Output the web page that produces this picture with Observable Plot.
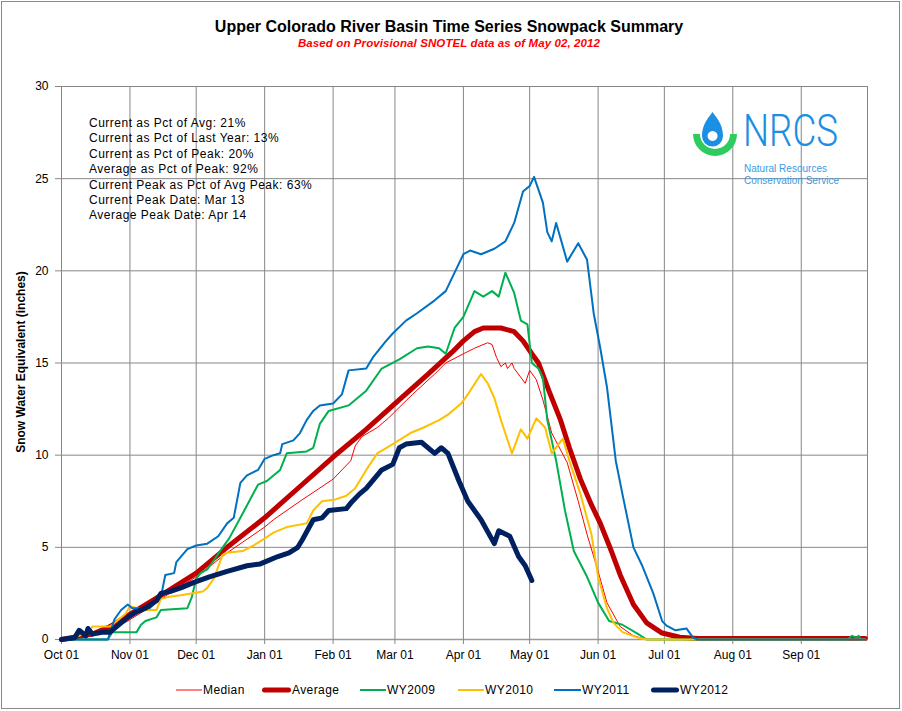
<!DOCTYPE html>
<html>
<head>
<meta charset="utf-8">
<script src="https://cdn.jsdelivr.net/npm/d3@7"></script>
<script src="https://cdn.jsdelivr.net/npm/@observablehq/plot@0.6"></script>
<style>
  html, body { margin: 0; padding: 0; background: #fff; }
  body { font-family: "Liberation Sans", Arial, sans-serif; }
  #wrap { position: relative; width: 902px; height: 711px; overflow: hidden; background: #fff; }
  #border { position: absolute; left: 1px; top: 1px; width: 897px; height: 706px; border: 1px solid #8a8a8a; }
  #title { position: absolute; left: 0; top: 18px; width: 898px; text-align: center; font-size: 16px; font-weight: bold; line-height: 18px; color: #000; }
  #subtitle { position: absolute; left: 0; top: 36px; width: 898px; text-align: center; font-size: 11.5px; font-weight: bold; font-style: italic; line-height: 14px; color: #ff0000; letter-spacing: 0.1px; }
  #chart { position: absolute; left: 0; top: 60px; }
  #ytitle { position: absolute; left: -129px; top: 355px; width: 300px; text-align: center; font-size: 12px; font-weight: bold; line-height: 14px; transform: rotate(-90deg); transform-origin: 150px 7px; }
  #notes { position: absolute; left: 89px; top: 116px; font-size: 12px; line-height: 15.4px; color: #000; white-space: pre; letter-spacing: 0.5px; }
  #logo { position: absolute; left: 690px; top: 95px; }
  .leg { position: absolute; top: 682px; height: 16px; font-size: 12px; line-height: 16px; }
  .leg svg { position: absolute; left: 0; top: 0; }
  .leg span { position: absolute; top: 0; white-space: nowrap; letter-spacing: 0.4px; }
</style>
</head>
<body>
<div id="wrap">
  <div id="border"></div>
  <div id="title">Upper Colorado River Basin Time Series Snowpack Summary</div>
  <div id="subtitle">Based on Provisional SNOTEL data as of May 02, 2012</div>
  <div id="chart"></div>
  <div id="ytitle">Snow Water Equivalent (inches)</div>
  <div id="notes"></div>
  <svg id="logo" width="170" height="100" viewBox="0 0 170 100">
    <path d="M3,39 A22,22 0 0 0 47,39 L40,39 A15,15 0 0 1 10,39 Z" fill="#2ecc5f"/>
    <path fill-rule="evenodd" fill="#1a8fe3" d="M22.5,17 C26.5,23 33,29 33,41 A10.5,10.5 0 0 1 12,41 C12,29 18.5,23 22.5,17 Z M22.5,36 A5,5 0 1 0 22.6,36 Z"/>
    <text x="53" y="51" font-family="Roboto, 'Liberation Sans', Arial, sans-serif" font-weight="300" font-size="44" fill="#1a8fe3" textLength="95" lengthAdjust="spacingAndGlyphs">NRCS</text>
    <text x="54" y="77" font-family="'Liberation Sans', Arial, sans-serif" font-size="10" fill="#3a9be0" textLength="83" lengthAdjust="spacingAndGlyphs">Natural Resources</text>
    <text x="54" y="89" font-family="'Liberation Sans', Arial, sans-serif" font-size="10" fill="#3a9be0" textLength="95" lengthAdjust="spacingAndGlyphs">Conservation Service</text>
  </svg>
</div>
<script>
// ---------------- data ----------------
const monthTicks = ["10-01","11-01","12-01","01-01","02-01","03-01","04-01","05-01","06-01","07-01","08-01","09-01"];
const yTicks = [0, 5, 10, 15, 20, 25, 30];

const seriesNames = ["Median", "Average", "WY2009", "WY2010", "WY2011", "WY2012"];
const seriesColors = ["#ff0000", "#c00000", "#00b050", "#ffc000", "#0070c0", "#002060"];
const seriesWidths = [1, 5, 2, 2, 2, 5];

const median = [["10-01",0],["10-08",0.1],["10-15",0.2],["10-23",0.5],["10-31",1.0],["11-08",1.6],["11-15",2.2],["12-01",3.4],["12-15",4.7],["01-01",6.1],["01-05",6.5],["01-17",7.5],["02-01",8.7],["02-05",9.2],["02-09",9.7],["02-11",10.5],["02-14",11.0],["02-21",11.5],["02-26",12.0],["03-03",12.6],["03-09",13.3],["03-19",14.4],["03-24",15.0],["04-01",15.5],["04-06",15.8],["04-12",16.1],["04-14",16.0],["04-16",15.3],["04-18",14.8],["04-20",15.0],["04-21",14.7],["04-23",15.0],["04-24",14.7],["04-29",13.9],["05-01",14.6],["05-04",14.1],["05-07",13.0],["05-11",11.2],["05-18",9.6],["05-23",7.5],["05-27",5.7],["06-01",3.7],["06-05",2.0],["06-11",0.7],["06-17",0.2],["06-23",0],["09-30",0]];

const average = [["10-01",0],["10-15",0.3],["10-23",0.7],["10-31",1.3],["11-15",2.4],["12-01",3.6],["12-15",5.0],["01-01",6.6],["01-17",8.3],["02-01",9.9],["02-16",11.4],["03-01",12.8],["03-16",14.4],["03-27",15.6],["04-01",16.2],["04-06",16.7],["04-10",16.9],["04-18",16.9],["04-24",16.7],["04-28",16.2],["05-02",15.5],["05-05",15.0],["05-10",13.4],["05-15",11.9],["05-19",10.4],["05-24",8.7],["05-29",7.3],["06-02",6.3],["06-07",4.8],["06-11",3.5],["06-17",1.9],["06-23",0.9],["06-30",0.35],["07-08",0.12],["07-16",0.05],["09-30",0.05]];

const wy2009 = [["10-01",0],["10-22",0],["10-24",0.4],["11-04",0.4],["11-06",0.8],["11-08",1.0],["11-13",1.2],["11-15",1.6],["11-27",1.7],["11-29",2.3],["12-01",3.3],["12-03",3.6],["12-06",3.8],["12-09",4.3],["12-13",5.0],["12-16",5.5],["12-21",6.6],["12-25",7.5],["12-29",8.4],["01-02",8.6],["01-08",9.2],["01-11",10.1],["01-20",10.2],["01-23",10.4],["01-26",11.7],["01-30",12.4],["02-08",12.7],["02-16",13.5],["02-23",14.7],["03-03",15.2],["03-11",15.8],["03-16",15.9],["03-21",15.8],["03-24",15.5],["03-28",16.9],["04-01",17.5],["04-06",18.9],["04-10",18.6],["04-14",18.9],["04-17",18.6],["04-20",19.9],["04-24",18.8],["04-27",17.3],["04-30",17.1],["05-02",15.0],["05-05",14.7],["05-07",14.2],["05-09",11.9],["05-13",9.7],["05-17",7.0],["05-21",4.8],["05-27",3.4],["06-01",2.0],["06-06",1.0],["06-12",0.8],["06-19",0.3],["06-23",0],["09-22",0],["09-24",0.2],["09-26",0.1],["09-27",0.2],["09-28",0],["09-30",0]];

const wy2010 = [["10-01",0],["10-09",0.2],["10-14",0.5],["10-15",0.7],["10-23",0.7],["10-26",1.0],["10-30",1.4],["11-01",1.8],["11-07",1.6],["11-13",1.6],["11-15",2.2],["11-18",2.3],["11-24",2.4],["12-04",2.6],["12-06",2.8],["12-09",3.3],["12-13",4.6],["12-15",4.7],["12-22",4.8],["12-27",5.1],["12-31",5.4],["01-05",5.8],["01-11",6.1],["01-20",6.3],["01-23",7.0],["01-27",7.5],["02-02",7.6],["02-07",7.8],["02-11",8.2],["02-16",9.2],["02-21",10.1],["02-28",10.6],["03-08",11.2],["03-14",11.5],["03-21",11.9],["03-25",12.2],["03-31",12.8],["04-03",13.3],["04-09",14.4],["04-12",13.9],["04-15",13.1],["04-18",11.9],["04-23",10.1],["04-27",11.4],["04-30",10.9],["05-04",12.0],["05-08",11.5],["05-11",10.1],["05-16",10.9],["05-19",9.7],["05-24",7.9],["05-29",5.7],["06-01",3.4],["06-05",1.7],["06-08",0.9],["06-12",0.4],["06-19",0.1],["06-23",0],["09-30",0]];

const wy2011 = [["10-01",0],["10-22",0],["10-25",1.1],["10-28",1.6],["10-31",1.9],["11-02",1.7],["11-10",1.7],["11-15",2.3],["11-17",3.5],["11-21",3.6],["11-22",4.2],["11-27",4.9],["12-01",5.1],["12-06",5.2],["12-11",5.6],["12-15",6.3],["12-18",6.6],["12-21",8.5],["12-24",8.9],["12-29",9.2],["01-01",9.8],["01-05",10.0],["01-08",10.1],["01-09",10.6],["01-14",10.8],["01-17",11.2],["01-20",11.9],["01-23",12.4],["01-26",12.7],["02-01",12.8],["02-05",13.3],["02-08",14.6],["02-16",14.7],["02-19",15.3],["02-25",16.2],["02-28",16.6],["03-06",17.3],["03-11",17.7],["03-19",18.4],["03-24",18.9],["03-28",19.9],["04-01",20.9],["04-04",21.1],["04-09",20.9],["04-15",21.2],["04-20",21.6],["04-24",22.6],["04-28",24.3],["05-01",24.6],["05-03",25.1],["05-07",23.7],["05-09",22.1],["05-11",21.6],["05-13",22.6],["05-18",20.5],["05-23",21.5],["05-27",20.6],["05-30",17.7],["06-02",15.8],["06-05",13.7],["06-09",9.7],["06-12",7.9],["06-17",5.0],["06-21",4.0],["06-26",2.5],["06-30",1.0],["07-02",0.75],["07-06",0.5],["07-11",0.6],["07-14",0.1],["07-16",0],["09-30",0]];

const wy2012 = [["10-01",0],["10-07",0.1],["10-09",0.5],["10-12",0.2],["10-13",0.6],["10-15",0.3],["10-20",0.4],["10-23",0.4],["10-25",0.6],["10-28",0.9],["10-31",1.2],["11-04",1.5],["11-08",1.7],["11-13",2.1],["11-15",2.5],["11-19",2.6],["11-24",2.8],["11-30",3.1],["12-07",3.4],["12-15",3.7],["12-24",4.0],["12-30",4.1],["01-07",4.5],["01-12",4.7],["01-16",5.0],["01-18",5.4],["01-23",6.5],["01-27",6.6],["01-30",7.0],["02-07",7.1],["02-09",7.4],["02-13",7.9],["02-16",8.2],["02-23",9.2],["02-28",9.5],["03-03",10.4],["03-06",10.6],["03-13",10.7],["03-19",10.1],["03-22",10.4],["03-25",10.1],["03-30",8.6],["04-03",7.5],["04-09",6.5],["04-15",5.2],["04-17",5.9],["04-22",5.6],["04-26",4.5],["04-29",4.0],["05-02",3.2]];

const noteLines = [
  "Current as Pct of Avg: 21%",
  "Current as Pct of Last Year: 13%",
  "Current as Pct of Peak: 20%",
  "Average as Pct of Peak: 92%",
  "Current Peak as Pct of Avg Peak: 63%",
  "Current Peak Date: Mar 13",
  "Average Peak Date: Apr 14"
];

// ---------------- build ----------------
// water-year axis (Oct 01 .. Sep 30), placed on a 365-day reference year
const toDate = s => { const [m, d] = s.split("-").map(Number); return new Date(Date.UTC(m >= 10 ? 2010 : 2011, m - 1, d)); };
const xStart = toDate("10-01");
const xEnd = new Date(Date.UTC(2011, 9, 1));
const tickDates = monthTicks.map(toDate);

const allSeries = [median, average, wy2009, wy2010, wy2011, wy2012];
const tables = allSeries.map((arr, i) => arr.map(([d, v]) => ({date: toDate(d), value: v, series: seriesNames[i]})));

const grid = "#868686";
const lineMarks = tables.map((t, i) => Plot.line(t, {
  x: "date", y: "value",
  stroke: seriesColors[i], strokeWidth: seriesWidths[i],
  strokeLinejoin: "round", strokeLinecap: "round"
}));

const chart = Plot.plot({
  width: 902,
  height: 612,
  marginTop: 26,
  marginBottom: 33,
  marginLeft: 61,
  marginRight: 35,
  style: {fontFamily: "'Liberation Sans', Arial, sans-serif", fontSize: "12px", color: "#000", background: "transparent"},
  x: {type: "utc", domain: [xStart, xEnd]},
  y: {domain: [0, 30]},
  marks: [
    Plot.ruleX([...tickDates, xEnd], {stroke: grid, strokeWidth: 1}),
    Plot.ruleY(yTicks.filter(v => v > 0), {stroke: grid, strokeWidth: 1}),
    Plot.ruleY([0], {stroke: "#9a9a9a", strokeWidth: 1.5}),
    Plot.axisY({ticks: yTicks, tickSize: 6, tickPadding: 7, label: null, stroke: grid, fill: "#000", fontSize: 12}),
    Plot.axisX({ticks: tickDates, tickFormat: d3.utcFormat("%b %d"), tickSize: 5, tickPadding: 6, label: null, stroke: grid, fill: "#000", fontSize: 12}),
    ...lineMarks
  ]
});
document.getElementById("chart").appendChild(chart);

document.getElementById("notes").textContent = noteLines.join("\n");

// legend
const legendX = [176, 262, 360, 458, 554, 651];
const swatchW = [26, 29, 26, 26, 27, 28];
const wrap = document.getElementById("wrap");
seriesNames.forEach((name, i) => {
  const item = document.createElement("div");
  item.className = "leg";
  item.style.left = legendX[i] + "px";
  const w = swatchW[i];
  const cap = seriesWidths[i] >= 4 ? "round" : "butt";
  const inset = seriesWidths[i] >= 4 ? 2.5 : 0;
  item.innerHTML = `<svg width="${w}" height="16"><line x1="${inset}" x2="${w - inset}" y1="8" y2="8" stroke="${seriesColors[i]}" stroke-width="${seriesWidths[i]}" stroke-linecap="${cap}"/></svg><span style="left:${w + 1}px">${name}</span>`;
  wrap.appendChild(item);
});
</script>
</body>
</html>
